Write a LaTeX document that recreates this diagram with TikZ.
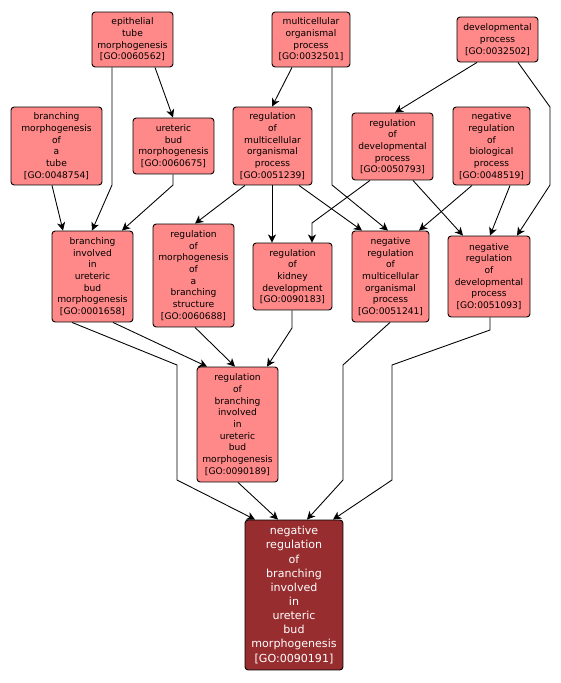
\documentclass[tikz,border=0pt]{standalone}
\usepackage{fontspec}
\setmainfont{DejaVu Sans}
\usetikzlibrary{arrows.meta}
\definecolor{gopink}{RGB}{255,136,136}
\definecolor{godark}{RGB}{152,45,47}

\begin{document}
\begin{tikzpicture}[x=0.02cm,y=-0.02cm,
	goterm/.style={draw=black,line width=0.5pt,fill=gopink,rounded corners=1.8pt,inner sep=0pt,align=center,font=\fontsize{5.2}{6.65}\selectfont},
	goquery/.style={goterm,fill=godark,text=white,font=\fontsize{6.3}{8.05}\selectfont},
	isa/.style={-{Stealth[length=4.6pt,width=4.6pt,inset=1.3pt]},line width=0.5pt}]
	\useasboundingbox (0,0) rectangle (561,683);%for the margins

	% top row
	\node[goterm,minimum width=1.62cm,minimum height=1.10cm] (ep) at (132.5,39.5) {epithelial\\tube\\morphogenesis\\{[GO:0060562]}};
	\node[goterm,minimum width=1.56cm,minimum height=1.10cm] (mo) at (311,39.5) {multicellular\\organismal\\process\\{[GO:0032501]}};
	\node[goterm,minimum width=1.62cm,minimum height=0.90cm] (dp) at (497.5,39.5) {developmental\\process\\{[GO:0032502]}};

	\node[goterm,minimum width=1.82cm,minimum height=1.56cm] (bmt) at (56.5,146) {branching\\morphogenesis\\of\\a\\tube\\{[GO:0048754]}};
	\node[goterm,minimum width=1.62cm,minimum height=1.12cm] (ubm) at (173.5,146) {ureteric\\bud\\morphogenesis\\{[GO:0060675]}};
	\node[goterm,minimum width=1.58cm,minimum height=1.56cm] (rmo) at (272.5,146) {regulation\\of\\multicellular\\organismal\\process\\{[GO:0051239]}};
	\node[goterm,minimum width=1.62cm,minimum height=1.34cm] (rdp) at (392.5,146.5) {regulation\\of\\developmental\\process\\{[GO:0050793]}};
	\node[goterm,minimum width=1.54cm,minimum height=1.56cm] (nrbp) at (491.5,146) {negative\\regulation\\of\\biological\\process\\{[GO:0048519]}};

	\node[goterm,minimum width=1.62cm,minimum height=1.82cm] (bi) at (92.5,276.5) {branching\\involved\\in\\ureteric\\bud\\morphogenesis\\{[GO:0001658]}};
	\node[goterm,minimum width=1.62cm,minimum height=2.06cm] (rmb) at (193.5,275.5) {regulation\\of\\morphogenesis\\of\\a\\branching\\structure\\{[GO:0060688]}};
	\node[goterm,minimum width=1.58cm,minimum height=1.34cm] (rkd) at (292.5,276.5) {regulation\\of\\kidney\\development\\{[GO:0090183]}};
	\node[goterm,minimum width=1.54cm,minimum height=1.82cm] (nrmo) at (390.5,276.5) {negative\\regulation\\of\\multicellular\\organismal\\process\\{[GO:0051241]}};
	\node[goterm,minimum width=1.64cm,minimum height=1.62cm] (nrdp) at (489,276.5) {negative\\regulation\\of\\developmental\\process\\{[GO:0051093]}};

	\node[goterm,minimum width=1.62cm,minimum height=2.30cm] (rbi) at (237.5,424.5) {regulation\\of\\branching\\involved\\in\\ureteric\\bud\\morphogenesis\\{[GO:0090189]}};

	\node[goquery,minimum width=1.96cm,minimum height=3.00cm] (tgt) at (294,595) {negative\\regulation\\of\\branching\\involved\\in\\ureteric\\bud\\morphogenesis\\{[GO:0090191]}};

	% straight links
	\foreach \a/\ax/\b/\bx in {ep/155/ubm/173, bmt/52/bi/63, mo/292/rmo/272, dp/477/rdp/395,
		rmo/245/rmb/195, rmo/272/rkd/272, rmo/299/nrmo/362, rdp/413/nrdp/463,
		nrbp/472/nrmo/419, nrbp/510/nrdp/490, bi/113/rbi/207, rmb/195/rbi/235, rbi/238/tgt/278}{
		\draw[isa] (\a.south -| \ax,0) -- (\b.north -| \bx,0);
	}

	% links with bends
	\draw[isa] (ep.south -| 112,0) -- (112,185) -- (bi.north -| 92,0);
	\draw[isa] (ubm.south -| 173,0) -- (173,185) -- (bi.north -| 122,0);
	\draw[isa] (mo.south -| 332,0) -- (332,185) -- (nrmo.north -| 388,0);
	\draw[isa] (dp.south -| 518,0) -- (550,107) -- (550,185) -- (nrdp.north -| 517,0);
	\draw[isa] (rdp.south -| 370,0) -- (312,223) -- (rkd.north -| 312,0);
	\draw[isa] (rkd.south -| 292,0) -- (292,328) -- (rbi.north -| 267,0);
	\draw[isa] (bi.south -| 72,0) -- (177,365) -- (177,480) -- (tgt.north -| 255,0);
	\draw[isa] (nrmo.south -| 390,0) -- (343,365) -- (343,480) -- (tgt.north -| 307,0);
	\draw[isa] (nrdp.south -| 490,0) -- (490,330) -- (392,365) -- (392,480) -- (tgt.north -| 333,0);
\end{tikzpicture}
\end{document}
